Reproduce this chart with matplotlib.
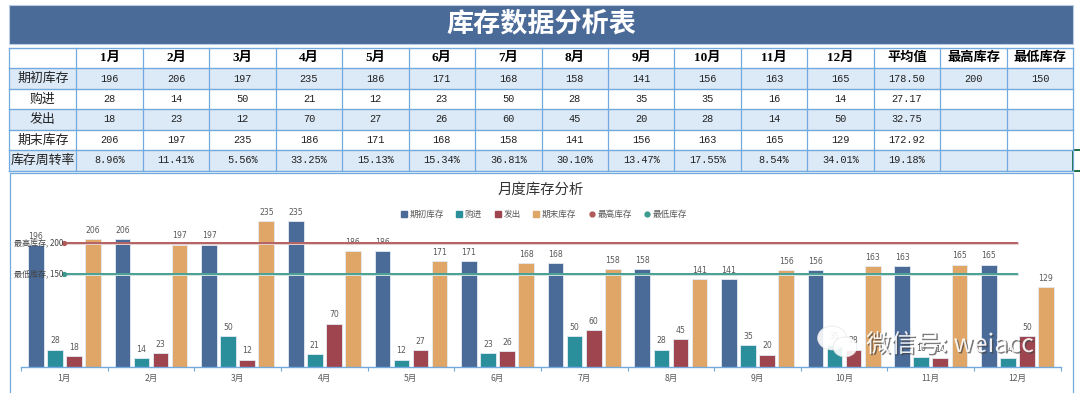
#!/usr/bin/env python3
"""Inventory table with monthly bar chart below it."""

import numpy as np
import matplotlib
matplotlib.use('Agg')
import matplotlib.pyplot as plt
import matplotlib.patheffects as pe
from matplotlib.lines import Line2D
from matplotlib.patches import Ellipse, Rectangle

plt.rcParams['font.family'] = ['Noto Sans CJK SC', 'DejaVu Sans']

months = ['1月', '2月', '3月', '4月', '5月', '6月', '7月', '8月', '9月', '10月', '11月', '12月']
opening = [196, 206, 197, 235, 186, 171, 168, 158, 141, 156, 163, 165]
purchased = [28, 14, 50, 21, 12, 23, 50, 28, 35, 35, 16, 14]
shipped = [18, 23, 12, 70, 27, 26, 60, 45, 20, 28, 14, 50]
closing = [206, 197, 235, 186, 171, 168, 158, 141, 156, 163, 165, 129]
turnover = ['8.96%', '11.41%', '5.56%', '33.25%', '15.13%', '15.34%', '36.81%',
            '30.10%', '13.47%', '17.55%', '8.54%', '34.01%']
max_stock = 200
min_stock = 150

extra_headers = ['平均值', '最高库存', '最低库存']
row_names = ['期初库存', '购进', '发出', '期末库存', '库存周转率']
row_extras = [
    ['178.50', str(max_stock), str(min_stock)],
    ['27.17', '', ''],
    ['32.75', '', ''],
    ['172.92', '', ''],
    ['19.18%', '', ''],
]

BLUE = '#4a6a98'
TEAL = '#2b8f9b'
RED = '#9e4550'
ORANGE = '#dfa667'
GRID = '#72a9de'
SHADE = '#dce9f6'
LABEL = '#595959'
NUM_FONT = ['Liberation Mono', 'Noto Sans CJK SC']
HEAD_FONT = ['Liberation Serif', 'Noto Sans CJK SC']
CHART_FONT = ['DejaVu Sans', 'Noto Sans CJK SC']

W, H = 1080, 393
fig = plt.figure(figsize=(W / 100, H / 100), dpi=100, facecolor='white')

# Overlay in pixel coordinates for the sheet itself
sheet = fig.add_axes([0, 0, 1, 1])
sheet.set_xlim(0, W)
sheet.set_ylim(H, 0)
sheet.axis('off')

sheet.add_patch(Rectangle((9, 5), 1064, 38.5, fc=BLUE, ec='#b9cde4', lw=0.8))
sheet.text(541, 24.5, '库存数据分析表', color='white', fontsize=19.5, fontweight='bold',
           ha='center', va='center')

x_edges = np.r_[9.3, 76.4 + 66.45 * np.arange(16)]
y_edges = [48, 68, 89, 109, 130, 150, 170.5]

for r in (1, 3, 5):
    sheet.add_patch(Rectangle((x_edges[0], y_edges[r]), x_edges[-1] - x_edges[0],
                              y_edges[r + 1] - y_edges[r], fc=SHADE, ec='none'))
for x in x_edges:
    sheet.plot([x, x], [y_edges[0], y_edges[-1]], color=GRID, lw=0.9, zorder=2)
for y in y_edges:
    sheet.plot([x_edges[0], x_edges[-1]], [y, y], color=GRID, lw=1.0, zorder=2)

centers = (x_edges[:-1] + x_edges[1:]) / 2
row_mid = [(a + b) / 2 for a, b in zip(y_edges[:-1], y_edges[1:])]

for cx, head in zip(centers[1:], months + extra_headers):
    sheet.text(cx, row_mid[0], head, fontsize=9.5, fontweight='bold', family=HEAD_FONT,
               ha='center', va='center', color='black', zorder=3)

rows = [
    [str(v) for v in opening],
    [str(v) for v in purchased],
    [str(v) for v in shipped],
    [str(v) for v in closing],
    turnover,
]
for i, (name, vals, extras) in enumerate(zip(row_names, rows, row_extras)):
    sheet.text(centers[0], row_mid[i + 1], name, fontsize=9.3, ha='center', va='center',
               color='#222222', zorder=3)
    for cx, val in zip(centers[1:], vals + extras):
        sheet.text(cx, row_mid[i + 1], val, fontsize=7.4, family=NUM_FONT,
                   ha='center', va='center', color='#222222', zorder=3)

# Chart frame and the selected cell marker on the right
sheet.plot([10.3, 10.3, 1073, 1073], [H, 172.5, 172.5, H], color=GRID, lw=0.9)
sheet.add_patch(Rectangle((1073, 150), 10, 21, fc='none', ec='#1f6e43', lw=1.4))

# Chart
ax_left, ax_right, ax_top, ax_base = 21.1, 1060.7, 172.5, 367
ax = fig.add_axes([ax_left / W, 1 - ax_base / H, (ax_right - ax_left) / W, (ax_base - ax_top) / H])
ax.patch.set_alpha(0)
ax.set_xlim(-0.5, 11.5)
ax.set_ylim(0, (ax_base - ax_top) / 0.621)

x = np.arange(len(months))
bar_w = 0.18
step = 0.22
series = [('期初库存', opening, BLUE), ('购进', purchased, TEAL),
          ('发出', shipped, RED), ('期末库存', closing, ORANGE)]
for i, (name, vals, color) in enumerate(series):
    pos = x + (i - 1.5) * step
    ax.bar(pos, vals, bar_w, color=color, edgecolor='#e4ebf3', linewidth=0.6, zorder=2)
    for px, v in zip(pos, vals):
        ax.annotate(str(v), (px, v), xytext=(0, 3), textcoords='offset points',
                    ha='center', va='bottom', fontsize=5.6, family=CHART_FONT,
                    color=LABEL, zorder=3)

LINE_RED = '#b05a5a'
LINE_TEAL = '#3f9a8e'
for level, color, halo, name in [(max_stock, LINE_RED, '#e6cfcf', '最高库存'),
                                 (min_stock, LINE_TEAL, '#cfe3df', '最低库存')]:
    ax.plot(x, [level] * len(x), color=color, lw=1.3, zorder=4,
            path_effects=[pe.Stroke(linewidth=2.1, foreground=halo), pe.Normal()])
    ax.plot(x[0], level, 'o', color=color, ms=2.8, zorder=4)
    ax.annotate(f'{name}, {level}', (x[0], level), xytext=(-36, 0), textcoords='offset points',
                ha='left', va='center', fontsize=5.8, family=CHART_FONT[::-1], color='#444444',
                zorder=5, annotation_clip=False)

ax.set_xticks(np.arange(-0.5, 12), minor=False)
ax.set_xticklabels([])
ax.set_xticks(x, months, minor=True)
ax.tick_params(axis='x', which='major', length=3, width=0.8, color=GRID, direction='out')
ax.tick_params(axis='x', which='minor', length=0, labelsize=6.2, labelcolor=LABEL, pad=5)
ax.set_yticks([])
for side in ['top', 'left', 'right']:
    ax.spines[side].set_visible(False)
ax.spines['bottom'].set_color(GRID)
ax.spines['bottom'].set_linewidth(1.0)

sheet.text(541, 190, '月度库存分析', fontsize=10.4, ha='center', va='center', color='#333333')

handles = [Line2D([], [], ls='none', marker='s', ms=4, color=c) for _, _, c in series]
handles += [Line2D([], [], ls='none', marker='o', ms=3.5, color=LINE_RED),
            Line2D([], [], ls='none', marker='o', ms=3.5, color=LINE_TEAL)]
names = [s[0] for s in series] + ['最高库存', '最低库存']
sheet.legend(handles, names, loc='center', bbox_to_anchor=(543, 214.5), bbox_transform=sheet.transData,
             ncol=6, frameon=False, fontsize=6.2, labelcolor=LABEL, handletextpad=0.05,
             columnspacing=1.2, handlelength=1.2, borderpad=0)

# Watermark sits over everything
mark = fig.add_axes([0, 0, 1, 1])
mark.set_xlim(0, W)
mark.set_ylim(H, 0)
mark.axis('off')
mark.patch.set_alpha(0)
mark.add_patch(Ellipse((832, 338), 29, 24, fc='white', ec='#dddddd', lw=0.4, alpha=0.9))
mark.add_patch(Ellipse((845, 347), 24, 20, fc='white', ec='#dddddd', lw=0.4, alpha=0.9))
mark.text(866, 345, '微信号: weiacc', fontsize=18, color='white', ha='left', va='center', alpha=0.9,
          path_effects=[pe.withSimplePatchShadow(offset=(1, -1), shadow_rgbFace='#444444', alpha=0.7)])

fig.savefig('out.png', dpi=100, facecolor='white')
